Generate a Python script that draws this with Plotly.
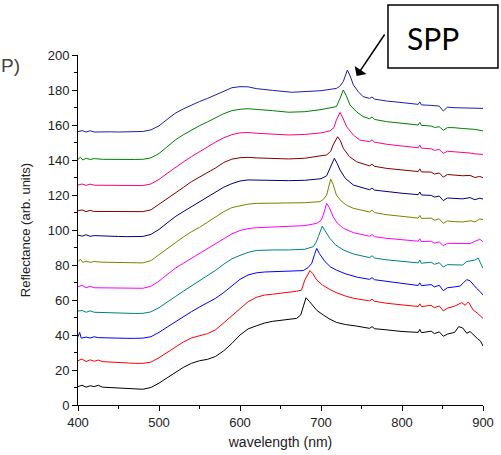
import plotly.graph_objects as go

# ---- data (wavelength nm, reflectance arb. units) ----
wl_c0 = [400, 405, 410, 415, 420, 425, 430, 440, 450, 460, 470, 480, 490, 500, 510, 520, 530, 540, 550, 560, 570, 580, 590, 600, 610, 620, 630, 640, 650, 660, 670, 675, 678, 681.5, 686, 690, 695, 703, 710, 719, 730, 744, 760, 763, 766, 780, 800, 820, 822, 824, 836, 840, 846, 851, 856, 865, 870, 875, 880, 884, 888, 893, 897, 900]
r_c0 = [10.5, 11.3, 10.2, 11.0, 10.5, 11.3, 10.2, 10.0, 9.8, 9.3, 9.0, 9.0, 10.0, 12.5, 15.5, 18.5, 21.5, 23.8, 25.3, 26.1, 27.8, 31, 35.2, 40, 43.5, 45.2, 46.8, 47.8, 48.5, 49, 49.5, 51.5, 56, 61.3, 59, 56.5, 54, 51.4, 49.3, 47.2, 46, 45.1, 43.8, 44.8, 43.6, 43, 42, 41.5, 43.2, 41.3, 42.2, 40.8, 41.8, 39.3, 40.5, 41.5, 44.8, 44, 41, 42, 40, 38, 36.5, 33.7]

wl_c1 = [400, 405, 410, 415, 420, 425, 430, 440, 450, 460, 470, 480, 490, 500, 510, 520, 530, 540, 550, 560, 570, 580, 590, 600, 610, 620, 630, 640, 650, 660, 670, 676, 680, 686.4, 690, 694.7, 702, 711, 720, 730, 740, 760, 763, 766, 780, 800, 820, 822, 824, 836, 840, 846, 851, 856, 865, 873.7, 878, 882, 887.8, 893, 897, 900]
r_c1 = [25.3, 26.3, 24.8, 25.8, 25, 25.7, 24.8, 24.5, 24.3, 24, 23.8, 23.8, 24.5, 27, 30, 33, 36, 38.3, 39.5, 40.8, 43, 47, 51.4, 55.5, 59, 61.5, 62.8, 63.3, 63.8, 64.2, 65, 65.7, 71.4, 76.8, 75, 71.4, 68.5, 66, 64, 62.3, 61, 59.5, 60.5, 59.3, 58.2, 57.2, 56.3, 57.8, 56.2, 57.0, 55.6, 56.6, 53.8, 55.3, 56.5, 58.5, 57, 58.9, 54.3, 52.5, 51, 49.5]

wl_c2 = [400, 402, 404, 410, 415, 420, 425, 430, 440, 450, 460, 470, 480, 490, 500, 510, 520, 530, 540, 550, 560, 570, 580, 590, 600, 610, 620, 630, 640, 660, 670, 678, 684, 688.6, 692, 694.7, 698, 705, 712, 719, 730, 745, 760, 763, 766, 780, 800, 820, 822, 824, 836, 840, 846, 851, 856, 865, 872, 876, 880, 884, 888, 892, 896, 900]
r_c2 = [39, 41.5, 38.2, 38.8, 38.3, 39, 38.5, 38.4, 38.2, 38.2, 38.1, 38.1, 38.2, 39, 41.5, 44.5, 47.6, 50.5, 53.3, 56, 58.3, 61, 64.3, 68, 71.8, 74.3, 75.5, 76, 76.2, 76.2, 76.5, 76.8, 78.5, 81, 86, 89.5, 86.5, 81.9, 78.8, 77.1, 75, 73, 71.8, 72.8, 71.6, 70.6, 69.5, 68.3, 69.8, 68.2, 68.8, 67.5, 68.4, 65.3, 67, 67.5, 68, 70, 71.6, 71, 68.5, 66.7, 65, 62.9]

wl_c3 = [400, 405, 410, 415, 420, 430, 440, 450, 460, 470, 480, 490, 500, 510, 520, 530, 540, 550, 560, 570, 580, 590, 600, 610, 620, 630, 640, 660, 680, 690.5, 694, 696.7, 701.6, 705, 711, 718, 727.5, 740, 760, 763, 766, 780, 800, 820, 822, 824, 836, 840, 846, 851, 856, 865, 875, 880, 885, 890, 894, 897, 900]
r_c3 = [53.7, 54, 53, 53.8, 53, 52.8, 52.6, 52.5, 52.4, 52.3, 52.4, 53.2, 55.6, 58.5, 61.9, 65, 68, 70.8, 73.5, 77, 80.5, 83.5, 85.5, 87.2, 88.3, 88.6, 88.6, 88.6, 89, 90.5, 93, 96.2, 102.3, 99.5, 95.2, 91.5, 88.6, 86.3, 84.2, 85.3, 84, 83, 82, 81.2, 82.8, 81, 81.6, 80.4, 81.3, 78.8, 80.2, 80.2, 80, 82, 82.2, 82.8, 84, 81, 78.1]

wl_c4 = [400, 405, 410, 415, 420, 430, 440, 450, 460, 470, 480, 490, 500, 510, 520, 530, 540, 550, 560, 570, 580, 590, 600, 610, 620, 640, 660, 680, 694.7, 700, 702.8, 707, 710, 715, 720, 727.5, 740, 760, 763, 766, 780, 800, 820, 822, 824, 836, 840, 846, 851, 856, 870, 884, 890, 896, 900]
r_c4 = [67.6, 68.4, 67, 67.8, 67, 67, 66.8, 66.7, 66.7, 66.6, 66.7, 67.8, 70.8, 74.5, 78.1, 81, 83.8, 86.6, 89.3, 92.3, 95, 97.8, 99.7, 100.8, 101.3, 101.6, 101.8, 102.5, 103.8, 105.5, 108.6, 115.2, 113, 107.6, 104, 101, 98.5, 96.4, 97.4, 96.2, 95.3, 94.4, 93.6, 95.0, 93.4, 93.6, 92.5, 93.2, 91.0, 92.4, 92.2, 92.2, 93.5, 94.7, 93.3]

wl_c5 = [400, 403, 406, 410, 415, 420, 430, 440, 450, 460, 470, 480, 490, 500, 510, 520, 530, 540, 550, 560, 570, 580, 590, 600, 610, 620, 640, 660, 680, 698.8, 703, 707, 712, 715, 719, 725, 732, 740, 760, 763, 766, 780, 800, 820, 822, 824, 836, 840, 846, 851, 856, 863, 875, 885, 890, 896, 900]
r_c5 = [81.9, 83.3, 81.5, 82.2, 81.5, 82, 81.6, 81.5, 81.4, 81.3, 81.2, 81.2, 82.5, 86, 89.5, 92.8, 96, 99, 101.5, 104.5, 107.5, 110.5, 112.8, 114, 114.8, 115.2, 115.2, 115.4, 115.6, 116.2, 117.5, 120, 129.1, 126, 120, 116.5, 114, 112.4, 110.3, 111.3, 110, 108.8, 107.7, 106.8, 108.3, 106.6, 106.8, 105.6, 106.4, 103.8, 105.2, 104.8, 104.6, 105.3, 104.6, 106.3, 106]

wl_c6 = [400, 405, 410, 415, 420, 430, 440, 450, 460, 470, 480, 490, 500, 510, 520, 530, 540, 550, 560, 570, 580, 590, 600, 610, 620, 640, 660, 680, 700, 707, 711, 716.5, 720, 723.5, 730, 740, 760, 763, 766, 781, 800, 820, 822, 824, 836, 840, 846, 851, 856, 863, 875, 884, 890, 896, 900]
r_c6 = [97.1, 96.5, 97.3, 96.4, 96.8, 96.5, 96.4, 96.3, 96.2, 96.2, 96.3, 97.5, 100.3, 104, 107.6, 110.5, 113.3, 116.2, 118.8, 121.8, 124.5, 126.5, 128, 128.6, 128.5, 128.2, 128.2, 128.4, 129.3, 131, 135.2, 141, 138, 134.3, 129.5, 125.7, 123, 124.0, 122.8, 121.9, 121, 120.2, 121.7, 120, 119.8, 118.8, 119.4, 116.8, 118.3, 118.1, 117.8, 118.5, 117.3, 118.2, 117.7]

wl_c7 = [400, 405, 410, 415, 420, 430, 440, 450, 460, 470, 480, 490, 500, 510, 520, 530, 540, 550, 560, 570, 580, 590, 600, 610, 620, 640, 660, 680, 700, 707, 712, 715, 720.5, 724, 727.5, 735, 744, 760, 763, 766, 781, 800, 820, 822, 824, 836, 840, 846, 851, 856, 863, 875, 884, 890, 896, 900]
r_c7 = [111, 111.5, 110.5, 111.2, 110.6, 110.6, 110.5, 110.5, 110.5, 110.4, 110.5, 111.5, 114.6, 117.8, 121, 124.3, 127.6, 130.2, 132.5, 135.5, 138.6, 140.5, 141.3, 141.5, 141.2, 141, 140.6, 141, 142.3, 142.9, 145, 148.6, 153.3, 151, 146.7, 142, 139, 136.6, 137.6, 136.4, 135.2, 134.3, 133.4, 134.9, 133.2, 133.1, 132, 132.6, 130.2, 131.7, 131.4, 131, 131.2, 130, 130.6, 129.9]

wl_c8 = [400, 405, 410, 415, 420, 430, 440, 450, 460, 470, 480, 490, 500, 510, 520, 530, 540, 550, 560, 570, 580, 590, 600, 610, 620, 640, 660, 680, 700, 711, 716, 719, 723.5, 727, 731.7, 740, 748, 760, 763, 766, 781, 800, 820, 822, 824, 836, 840, 846, 851, 856, 863, 875, 884, 890, 900]
r_c8 = [125.7, 126.3, 125.5, 126.2, 125.6, 125.5, 125.5, 125.4, 125.4, 125.3, 125.4, 126.3, 128.9, 132.3, 135.8, 138.9, 141.9, 144.8, 147.5, 150.3, 152.7, 154.5, 155.5, 155.7, 155.3, 154.7, 154.3, 154.6, 155.5, 156.6, 158.5, 162.9, 167.2, 164, 159, 154.2, 151.4, 150.5, 151.5, 150.2, 149, 148, 147, 148.5, 146.8, 146.4, 145.5, 146.0, 143.8, 145, 144.8, 144.3, 144, 143.5, 143.2]

wl_c9 = [400, 403, 406, 410, 415, 420, 430, 440, 450, 460, 470, 480, 490, 500, 510, 520, 530, 540, 550, 560, 570, 580, 590, 600, 610, 620, 640, 660, 680, 700, 719, 723.5, 727.5, 731, 735.8, 744, 752, 760, 763, 766, 781, 800, 820, 822, 824, 836, 840, 846, 851, 856, 863, 875, 884, 890, 900]
r_c9 = [140.4, 141.6, 140, 141, 140.3, 140.8, 140.4, 140.3, 140.3, 140.3, 140.3, 140.4, 141.2, 143.7, 147.5, 151.4, 154.4, 157.1, 159.6, 161.8, 164.2, 166.5, 168.2, 169, 169.3, 168.8, 168.2, 167.3, 167.6, 168.8, 170.5, 175.2, 180, 177, 171.4, 167.5, 164.8, 163.6, 164.6, 163.2, 161.9, 161, 160, 161.5, 159.8, 159.4, 158.6, 159.0, 157.0, 158.5, 158.5, 158, 157.6, 157.5, 156.6]

wl_c10 = [400, 405, 410, 415, 420, 430, 440, 450, 460, 470, 480, 490, 500, 510, 520, 530, 540, 550, 560, 570, 580, 590, 600, 610, 620, 630, 640, 664, 680, 700, 719, 723, 727.5, 732.5, 736, 740, 746, 752, 760, 763, 766, 781, 800, 820, 822, 824, 836, 846, 851, 856, 863, 880, 900]
r_c10 = [156.2, 156.8, 156, 156.7, 156, 156.2, 156.1, 156, 156, 156, 156.3, 157.2, 159.5, 163.2, 166.7, 169.2, 171.4, 173.4, 175.2, 177.3, 179.6, 181.3, 181.9, 181.8, 180.8, 180.2, 179.8, 178.7, 179, 179.6, 180.9, 182, 184.8, 191.4, 188, 182.9, 179, 176.2, 175.2, 176.0, 174.8, 173.7, 172.8, 171.8, 173.2, 171.5, 171.2, 170.8, 168.0, 170.2, 169.9, 169.8, 169.5]

series_wl = [wl_c0, wl_c1, wl_c2, wl_c3, wl_c4, wl_c5, wl_c6, wl_c7, wl_c8, wl_c9, wl_c10]
series_r = [r_c0, r_c1, r_c2, r_c3, r_c4, r_c5, r_c6, r_c7, r_c8, r_c9, r_c10]
colors = ["#000000", "#FF0000", "#0000FF", "#008080", "#FF00FF", "#808000",
          "#000080", "#800000", "#FF0080", "#008000", "#1E1EA8"]

x_ticks = [400, 500, 600, 700, 800, 900]
y_ticks = [0, 20, 40, 60, 80, 100, 120, 140, 160, 180, 200]

fig = go.Figure()
for wl, r, c in zip(series_wl, series_r, colors):
    fig.add_trace(go.Scatter(x=wl, y=r, mode="lines",
                             line=dict(color=c, width=1), showlegend=False,
                             hoverinfo="skip"))

axis_common = dict(showgrid=False, zeroline=False, showline=True,
                   linecolor="black", linewidth=1, ticks="outside",
                   ticklen=5, tickwidth=1, tickcolor="black",
                   tickfont=dict(family="Liberation Sans, Arial", size=13, color="#222"),
                   mirror=False, automargin=False)

fig.update_xaxes(range=[400, 900], tickvals=x_ticks,
                 minor=dict(dtick=50, ticks="outside", ticklen=3, tickcolor="black"),
                 title=dict(text="wavelength (nm)", standoff=8,
                            font=dict(family="Liberation Sans, Arial", size=14, color="#222")),
                 **axis_common)
fig.update_yaxes(range=[0, 200], tickvals=y_ticks,
                 minor=dict(dtick=10, ticks="outside", ticklen=3, tickcolor="black"),
                 title=dict(text="Reflectance (arb. units)", standoff=14,
                            font=dict(family="Liberation Sans, Arial", size=13, color="#222")),
                 **axis_common)

fig.update_layout(
    width=501, height=455,
    margin=dict(l=78, r=18, t=55, b=50),
    paper_bgcolor="white", plot_bgcolor="white",
    font=dict(family="Liberation Sans, Arial", color="#222"),
)

# panel letter (partially cut at the left edge)
fig.add_annotation(text="P)", xref="paper", yref="paper", x=-0.195, y=0.97,
                   xanchor="left", yanchor="middle", showarrow=False,
                   font=dict(family="Liberation Sans, Arial", size=19, color="#444"))

# SPP label box (frame + text)
fig.add_shape(type="rect", xref="paper", yref="paper",
              x0=0.7654, x1=1.037, y0=0.963, y1=1.143,
              line=dict(color="black", width=1.5), fillcolor="white", layer="above")
fig.add_annotation(text="SPP", xref="paper", yref="paper", x=0.8765, y=1.049,
                   xanchor="center", yanchor="middle", showarrow=False,
                   font=dict(family="Lato, Open Sans", size=30, color="black"))

# arrow pointing to the SPP peak
fig.add_annotation(text="", x=744, y=188, xref="x", yref="y",
                   ax=29, ay=-43, showarrow=True, arrowhead=1,
                   arrowsize=1.6, arrowwidth=1.5, arrowcolor="black")

fig.write_html("out.html", config={"displayModeBar": False},
               post_script="document.body.style.margin='0px';document.body.style.overflow='hidden';")
